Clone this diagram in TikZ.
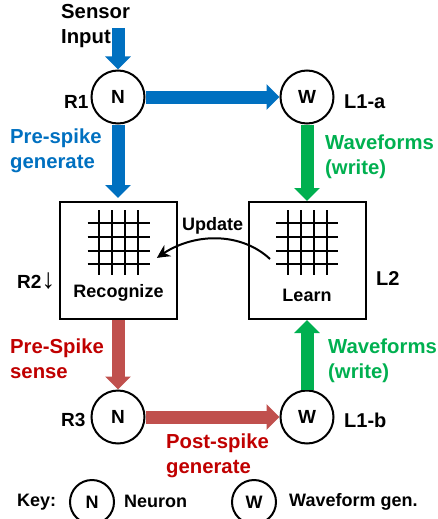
\documentclass[tikz,border=0pt]{standalone}
\usepackage{fontspec}
\setmainfont{Liberation Sans}
\usepackage{xcolor}
\usepackage{tikz}
\usetikzlibrary{positioning,arrows.meta,bending}
\definecolor{spikeblue}{HTML}{0070C0}
\definecolor{writegreen}{HTML}{00B050}
\definecolor{sensered}{HTML}{C0504D}
\definecolor{textred}{HTML}{C00000}

\begin{document}
\begin{tikzpicture}[
    x=1pt, y=-1pt,
    font=\bfseries\fontsize{18}{22}\selectfont,
    circ/.style={circle, draw, line width=2pt, minimum size=53pt, inner sep=0pt, font=\bfseries\fontsize{19}{22}\selectfont},
    keycirc/.style={circle, draw, line width=2pt, minimum size=44pt, inner sep=0pt},
    box/.style={rectangle, draw, line width=2pt, minimum size=117pt, inner sep=0pt},
    txt/.style={inner sep=0pt, anchor=west, align=left},
    big/.style={txt, font=\bfseries\fontsize{20.3}{25}\selectfont},
    arrow/.style={line width=13pt, -{Triangle[length=13pt,width=25pt]}},
    grid line/.style={line width=2pt},
    update/.style={line width=2pt, -{Stealth[length=13pt,width=13pt,bend]}}
]
\clip (0,0) rectangle (437,519);

% Read side
\node[circ] (r1) at (118,97) {N};
\node[box, below=76.5pt of r1] (recognize) {};
\node[circ, below=69.5pt of recognize] (r3) {N};

% Learn side
\node[circ, right=134pt of r1] (l1a) {W};
\node[box, below=76.5pt of l1a] (learn) {};
\node[circ, below=69.5pt of learn] (l1b) {W};

\node[inner sep=0pt] (recognizetxt) at (118.5,293) {Recognize};
\node[inner sep=0pt] (learntxt) at (307,295) {Learn};

% Crossbars
\foreach \cx in {118.5, 307} {
    \foreach \dx in {-19.5,-6.5,6.5,19.5}
        \draw[grid line] (\cx+\dx,210) -- (\cx+\dx,275);
    \foreach \gy in {223,237,251,264}
        \draw[grid line] (\cx-31,\gy) -- (\cx+31,\gy);
}

% Arrows
\coordinate (sensor) at (118,28);
\draw[arrow, spikeblue] (sensor) -- (r1);
\draw[arrow, spikeblue] (r1) -- (l1a);
\draw[arrow, spikeblue, shorten >=3pt] (r1) -- (recognize);
\draw[arrow, writegreen] (l1a) -- (learn);
\draw[arrow, sensered] (recognize) -- (r3);
\draw[arrow, sensered] (r3) -- (l1b);
\draw[arrow, writegreen] (l1b) -- (learn);

% Update
\coordinate (updatefrom) at (270,259);
\coordinate (updateto) at (157,258);
\draw[update] (updatefrom) .. controls (240,231) and (190,232) .. (updateto);

% Labels
\node[big] (sensorlbl) at (61,26.5) {Sensor\\Input};
\node[txt, font=\bfseries\fontsize{19}{24}\selectfont] (r1lbl) at (64,102) {R1};
\node[txt, font=\bfseries\fontsize{20}{24}\selectfont] (l1albl) at (344,102) {L1-a};
\node[big, text=spikeblue] (prelbl) at (10,151) {Pre-spike\\generate};
\node[big, text=writegreen] (wave1lbl) at (325,157) {Waveforms\\(write)};
\node[txt] (updatelbl) at (182,226) {Update};
\node[txt, font=\bfseries\fontsize{19}{24}\selectfont] (r2lbl) at (17,281) {R2\fontsize{28}{24}\selectfont\mdseries ↓};
\node[txt, font=\bfseries\fontsize{20}{24}\selectfont] (l2lbl) at (376,279) {L2};
\node[big, text=textred] (senselbl) at (10,359) {Pre-Spike\\sense};
\node[big, text=writegreen] (wave2lbl) at (328,360.5) {Waveforms\\(write)};
\node[txt, font=\bfseries\fontsize{19}{24}\selectfont] (r3lbl) at (61,420) {R3};
\node[txt, font=\bfseries\fontsize{20}{24}\selectfont] (l1blbl) at (344,420) {L1-b};
\node[big, text=textred] (postlbl) at (166,455.5) {Post-spike\\generate};

% Key
\node[txt] (keylbl) at (17,502) {Key:};
\node[keycirc] (keyn) at (92,502) {N};
\node[txt] (neuronlbl) at (124,501) {Neuron};
\node[keycirc] (keyw) at (254,502) {W};
\node[txt] (wavelbl) at (289,502) {Waveform gen.};
\end{tikzpicture}
\end{document}
